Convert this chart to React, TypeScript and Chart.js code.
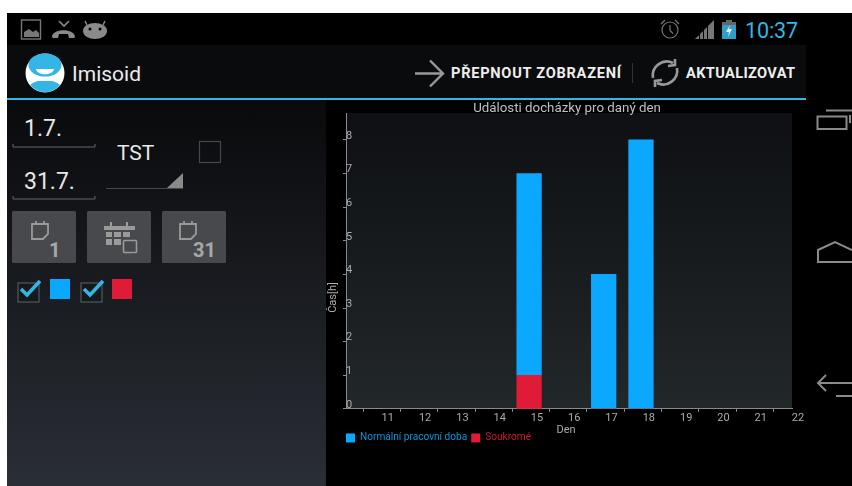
import React, { useEffect, useRef } from "react";
import { Chart, registerables } from "chart.js";

Chart.register(...registerables);

const chartTitle = "Události docházky pro daný den";
const xAxisTitle = "Den";
const yAxisTitle = "Čas[h]";
const seriesNames = ["Normální pracovní doba", "Soukromé"];
const barDays = [15, 17, 18];
const normalHours = [6, 4, 8];
const privateHours = [1, 0, 0];
const dayTicks = [11, 12, 13, 14, 15, 16, 17, 18, 19, 20, 21, 22];
const hourTicks = [0, 1, 2, 3, 4, 5, 6, 7, 8];

const BLUE = "#0aa9ff";
const RED = "#e01b37";
const AXIS = "#8a8a8a";
const LABEL = "#ababab";
const BAR_SHIFT = -0.05;
const FONT = "Roboto";

const plotBackground = {
  id: "plotBackground",
  beforeDraw(chart: any) {
    const { ctx, chartArea: a } = chart;
    const g = ctx.createLinearGradient(0, a.top, 0, a.bottom);
    g.addColorStop(0, "#0e1013");
    g.addColorStop(1, "#22272a");
    ctx.save();
    ctx.fillStyle = g;
    ctx.fillRect(a.left, a.top, a.right - a.left, a.bottom - a.top);
    ctx.restore();
  },
};

const axisTitles = {
  id: "axisTitles",
  afterDraw(chart: any) {
    const { ctx, chartArea: a } = chart;
    ctx.save();
    ctx.fillStyle = LABEL;
    ctx.font = `11px ${FONT}`;
    ctx.textAlign = "center";
    ctx.textBaseline = "middle";
    ctx.fillText(xAxisTitle, (a.left + a.right) / 2 - 3, a.bottom + 21.5);
    ctx.translate(a.left - 12.5, (a.top + a.bottom) / 2 + 36.5);
    ctx.rotate(-Math.PI / 2);
    ctx.fillText(yAxisTitle, 0, 0);
    ctx.restore();
  },
};

function ChartPanel() {
  const ref = useRef<HTMLCanvasElement | null>(null);
  useEffect(() => {
    const chart = new Chart(ref.current as HTMLCanvasElement, {
      type: "bar",
      data: {
        datasets: [
          {
            label: seriesNames[0],
            data: barDays.map((d, i) => ({ x: d + BAR_SHIFT, y: normalHours[i] })),
            backgroundColor: BLUE,
            barThickness: 24.6,
            order: 1,
          },
          {
            label: seriesNames[1],
            data: barDays.map((d, i) => ({ x: d + BAR_SHIFT, y: privateHours[i] })),
            backgroundColor: RED,
            barThickness: 24.6,
            order: 0,
          },
        ],
      },
      options: {
        responsive: false,
        animation: false,
        layout: { padding: { left: 16, right: 14, top: 0, bottom: 0 } },
        scales: {
          x: {
            type: "linear",
            stacked: true,
            min: 10.04,
            max: 22,
            offset: false,
            border: { color: AXIS },
            grid: { drawOnChartArea: false, tickLength: 3, tickColor: AXIS },
            afterBuildTicks: (s: any) => {
              s.ticks = dayTicks.map((value) => ({ value }));
            },
            afterFit: (s: any) => {
              s.height = 20;
            },
            ticks: {
              color: LABEL,
              font: { family: FONT, size: 11 },
              padding: 0,
              labelOffset: 6,
              maxRotation: 0,
              autoSkip: false,
              callback: (v: any) => String(v),
            },
          },
          y: {
            stacked: true,
            min: 0,
            max: 8.8,
            border: { color: AXIS },
            grid: { drawOnChartArea: false, tickLength: 3, tickColor: AXIS },
            afterBuildTicks: (s: any) => {
              s.ticks = hourTicks.map((value) => ({ value }));
            },
            afterFit: (s: any) => {
              s.width = 4;
            },
            ticks: {
              mirror: true,
              color: LABEL,
              font: { family: FONT, size: 11 },
              padding: 0,
              labelOffset: -4,
              callback: (v: any) => String(v),
            },
          },
        },
        plugins: {
          title: {
            display: true,
            text: chartTitle,
            color: "#c0c0c0",
            font: { family: FONT, size: 13.3, weight: "normal", lineHeight: 1 },
            padding: { top: 2, bottom: -2.3 },
          },
          tooltip: { enabled: false },
          legend: {
            position: "bottom",
            align: "start",
            onClick: () => {},
            labels: {
              boxWidth: 9,
              boxHeight: 9,
              padding: 4,
              font: { family: FONT, size: 10.1 },
              generateLabels: () =>
                seriesNames.map((text, i) => ({
                  text,
                  fillStyle: i === 0 ? BLUE : RED,
                  strokeStyle: "transparent",
                  lineWidth: 0,
                  fontColor: i === 0 ? "#0c93dc" : "#c81a33",
                  datasetIndex: i,
                  hidden: false,
                })),
            },
          },
        },
      } as any,
      plugins: [plotBackground, axisTitles],
    });
    return () => chart.destroy();
  }, []);
  return (
    <canvas
      ref={ref}
      width={480}
      height={353}
      style={{ position: "absolute", left: 326, top: 100, width: 480, height: 353, display: "block" }}
    />
  );
}

const G = "#8a8a8a";

function CalendarPage({ x, y }: { x: number; y: number }) {
  return (
    <path
      d={`M${x} ${y + 3}h16v10l-5 5h-11z M${x + 4} ${y}v3 M${x + 12} ${y}v3`}
      fill="none"
      stroke="#9a9a9a"
      strokeWidth={1.8}
    />
  );
}

function CheckBox({ x, color }: { x: number; color: string }) {
  return (
    <g>
      <rect x={x} y={283} width={21} height={19} fill="#16191b" stroke="#55595c" strokeWidth={1.2} />
      <path d={`M${x + 3} ${289}l6 6l13 -14`} fill="none" stroke="#33b5e5" strokeWidth={3.6} />
      <rect x={x + 32 - (x > 50 ? 1 : 0)} y={279} width={20} height={20} fill={color} />
    </g>
  );
}

export default function App() {
  return (
    <div style={{ position: "fixed", left: 0, top: 0, width: 852, height: 486, background: "#fff", overflow: "hidden" }}>
      <svg
        width={852}
        height={486}
        style={{ position: "absolute", left: 0, top: 0, display: "block", fontFamily: FONT }}
      >
        <defs>
          <linearGradient id="panel" x1="0" y1="0" x2="0" y2="1">
            <stop offset="0" stopColor="#090a0c" />
            <stop offset="1" stopColor="#2a2e35" />
          </linearGradient>
        </defs>
        <rect x={7} y={13} width={845} height={473} fill="#000" />
        <rect x={7} y={45} width={799} height={53} fill="#0a0b0c" />
        <rect x={7} y={98} width={799} height={2} fill="#33b5e5" />
        <rect x={7} y={100} width={319} height={386} fill="url(#panel)" />

        {/* status bar */}
        <rect x={21.5} y={20} width={19} height={19} fill="none" stroke="#777" strokeWidth={1.4} />
        <path d="M24 37v-5l5 -3l4 3l3 -2l3 3v4z" fill="#777" />
        <path d="M52 37c0 -9 23 -9 23 0l-1 1h-5l-1 -4h-9l-1 4h-5z" fill="#8a8a8a" />
        <path d="M59 21l5 5l5 -5" fill="none" stroke="#8a8a8a" strokeWidth={1.6} />
        <ellipse cx={95} cy={31} rx={12} ry={8} fill="#8a8a8a" />
        <path d="M87 25l-2 -4 M103 25l2 -4" stroke="#8a8a8a" strokeWidth={1.5} />
        <circle cx={90} cy={29} r={1.5} fill="#000" />
        <circle cx={100} cy={29} r={1.5} fill="#000" />
        <circle cx={670} cy={30} r={8} fill="none" stroke="#777" strokeWidth={1.2} />
        <path d="M670 25v5.5l3 3 M661 24l4 -4 M679 24l-4 -4" fill="none" stroke="#777" strokeWidth={1.2} />
        <path d="M695 39L714 20V39z" fill="#777" />
        <path d="M699.5 33v7M703.5 29v11M707.5 25v15" stroke="#000" strokeWidth={1} />
        <rect x={722} y={22} width={14} height={17} fill="#2f9fc9" />
        <rect x={722} y={22} width={14} height={3} fill="#666" />
        <rect x={726} y={20} width={6} height={2} fill="#666" />
        <path d="M730 25l-4 7h3l-1 5l4 -8h-3z" fill="#eee" />
        <text x={745} y={38} fontSize={21.5} fill="#33b5e5" textLength={53}>10:37</text>

        {/* action bar */}
        <circle cx={45} cy={73} r={19.5} fill="#fff" />
        <ellipse cx={45} cy={65} rx={16.5} ry={11.5} fill="#33b5e5" />
        <path d="M36 69h18c-1 7 -17 7 -18 0z" fill="#fff" />
        <path d="M30 85c4 -3 6 -4 9 -4h12c3 0 5 1 9 4a19.5 19.5 0 0 1 -30 0z" fill="#33b5e5" />
        <text x={72} y={81} fontSize={21} fill="#ececec">Imisoid</text>
        <path d="M415 73.5h27M430 60.5l13 13l-13 13" fill="none" stroke="#999" strokeWidth={2.4} />
        <text x={451} y={78} fontSize={14.6} fontWeight={700} fill="#eeeeee" textLength={170}>PŘEPNOUT ZOBRAZENÍ</text>
        <rect x={632} y={63} width={1} height={20} fill="#333" />
        <path
          d="M653 78a14 14 0 0 1 20 -15M677 68a14 14 0 0 1 -20 15 M668 66l7 -1l0 -6 M662 80l-7 1l0 6"
          fill="none"
          stroke="#999"
          strokeWidth={2.6}
        />
        <text x={686} y={78} fontSize={14.6} fontWeight={700} fill="#eeeeee" textLength={109}>AKTUALIZOVAT</text>

        {/* left form */}
        <text x={24} y={136} fontSize={23} fill="#e8e8e8">1.7.</text>
        <path d="M13 144v3h82v-3" fill="none" stroke="#666" strokeWidth={1} />
        <text x={24} y={189} fontSize={23} fill="#e8e8e8">31.7.</text>
        <path d="M13 196v3h82v-3" fill="none" stroke="#666" strokeWidth={1} />
        <text x={117} y={160} fontSize={21} fill="#e8e8e8">TST</text>
        <rect x={199.5} y={141.5} width={21} height={21} fill="none" stroke="#44484b" strokeWidth={1.2} />
        <rect x={106} y={188} width={77} height={1} fill="#44484b" />
        <path d="M183 173V188H167z" fill="#8a8a8a" />

        {[12, 87, 162].map((x) => (
          <rect key={x} x={x} y={211} width={64} height={52} rx={1.5} fill="#47494c" />
        ))}
        <CalendarPage x={32} y={221} />
        <text x={49} y={257} fontSize={20} fontWeight={700} fill="#a8a8a8">1</text>
        <rect x={104} y={226} width={31} height={4} fill="#9a9a9a" />
        <path d="M111 222v4M127 222v4" stroke="#9a9a9a" strokeWidth={2} />
        <path
          d="M106 232h6v5h-6zM114 232h7v5h-7zM123 232h7v5h-7zM106 239h6v6h-6zM114 239h7v6h-7z"
          fill="#9a9a9a"
        />
        <rect x={123.5} y={240.5} width={13} height={12} rx={1} fill="#47494c" stroke="#9a9a9a" strokeWidth={1.6} />
        <CalendarPage x={180} y={221} />
        <text x={193} y={257} fontSize={20} fontWeight={700} fill="#a8a8a8">31</text>

        <CheckBox x={18} color={BLUE} />
        <CheckBox x={81} color={RED} />

        {/* navigation bar */}
        <rect x={817.5} y={116.5} width={29} height={12.5} fill="none" stroke={G} strokeWidth={2} />
        <path d="M826 110.5H852M850 115v8" fill="none" stroke={G} strokeWidth={2} />
        <path d="M852 250L835 242L818 250V262H852" fill="none" stroke={G} strokeWidth={2} />
        <path d="M852 383H819M826 375L818 383L826 391M836 396H852" fill="none" stroke={G} strokeWidth={2} />
      </svg>
      <ChartPanel />
    </div>
  );
}
